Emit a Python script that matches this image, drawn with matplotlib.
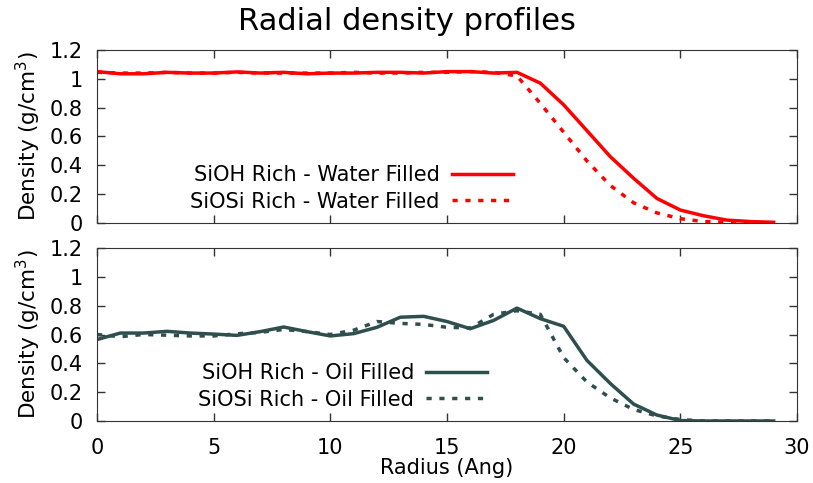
import numpy as np
import matplotlib
matplotlib.use("Agg")
import matplotlib.pyplot as plt

radius = list(range(0, 30))

# water filled (top panel)
siOH_water = [1.05, 1.035, 1.035, 1.045, 1.04, 1.04, 1.048, 1.04, 1.045, 1.035,
              1.04, 1.04, 1.045, 1.045, 1.04, 1.05, 1.05, 1.04, 1.045, 0.97,
              0.82, 0.64, 0.46, 0.31, 0.17, 0.09, 0.05, 0.02, 0.01, 0.005]
siOSi_water = [1.045, 1.04, 1.04, 1.045, 1.04, 1.04, 1.045, 1.04, 1.04, 1.04,
               1.04, 1.045, 1.04, 1.04, 1.045, 1.045, 1.05, 1.045, 1.02, 0.83,
               0.63, 0.43, 0.26, 0.14, 0.07, 0.03, 0.01, 0.005, 0.0, 0.0]

# oil filled (bottom panel)
siOH_oil = [0.565, 0.61, 0.61, 0.622, 0.61, 0.603, 0.594, 0.62, 0.652, 0.62,
            0.59, 0.606, 0.65, 0.72, 0.726, 0.69, 0.64, 0.698, 0.783, 0.71,
            0.657, 0.42, 0.26, 0.117, 0.041, 0.003, 0.0, 0.0, 0.0, 0.0]
siOSi_oil = [0.6, 0.585, 0.6, 0.595, 0.59, 0.59, 0.605, 0.615, 0.635, 0.62,
             0.6, 0.63, 0.69, 0.677, 0.67, 0.65, 0.645, 0.74, 0.765, 0.74,
             0.44, 0.27, 0.16, 0.08, 0.035, 0.01, 0.0, 0.0, 0.0, 0.0]

yticks = [0, 0.2, 0.4, 0.6, 0.8, 1, 1.2]
ytick_labels = ["0", "0.2", "0.4", "0.6", "0.8", "1", "1.2"]
xticks = [0, 5, 10, 15, 20, 25, 30]

RED = "#ff0000"
SLATE = "#2f4f4f"
DOT = (0, (1.5, 2.2))
FS = 15

plt.rcParams['font.family'] = ['DejaVu Sans']
plt.rcParams['mathtext.fontset'] = 'dejavusans'
fig = plt.figure(figsize=(8.13, 4.83), dpi=100)
ax1 = fig.add_axes([0.1193, 0.5383, 0.861, 0.3582])
ax2 = fig.add_axes([0.1193, 0.1284, 0.861, 0.3581])

ax1.plot(radius, siOH_water, color=RED, lw=2.5, label="SiOH Rich - Water Filled")
ax1.plot(radius, siOSi_water, color=RED, lw=2.5, ls=DOT, label="SiOSi Rich - Water Filled")
ax2.plot(radius, siOH_oil, color=SLATE, lw=2.5, label="SiOH Rich - Oil Filled")
ax2.plot(radius, siOSi_oil, color=SLATE, lw=2.5, ls=DOT, label="SiOSi Rich - Oil Filled")

for ax in (ax1, ax2):
    ax.set_xlim(0, 30)
    ax.set_ylim(0, 1.2)
    ax.set_xticks(xticks)
    ax.set_yticks(yticks)
    ax.set_yticklabels(ytick_labels)
    ax.tick_params(direction="in", top=True, right=True, length=6, width=1,
                   labelsize=FS, color="#333333")
    ax.tick_params(axis="y", pad=10)
    ax.tick_params(axis="x", pad=12)
    for s in ax.spines.values():
        s.set_color("#333333")
    ax.set_ylabel("Density (g/cm$^3$)", fontsize=15.5, labelpad=5)

ax1.tick_params(labelbottom=False)
ax2.set_xticklabels([str(t) for t in xticks])
ax2.set_xlabel("Radius (Ang)", fontsize=FS, labelpad=0)

leg_kw = dict(loc="center right", frameon=False, markerfirst=False, fontsize=FS,
              handlelength=2.9, handletextpad=0.6, labelspacing=0.3,
              borderpad=0, borderaxespad=0)
ax1.legend(bbox_to_anchor=(0.594, 0.2), **leg_kw)
ax2.legend(bbox_to_anchor=(0.557, 0.2), **leg_kw)

fig.suptitle("Radial density profiles", fontsize=22, y=0.985)

fig.savefig("out.png", dpi=100)
